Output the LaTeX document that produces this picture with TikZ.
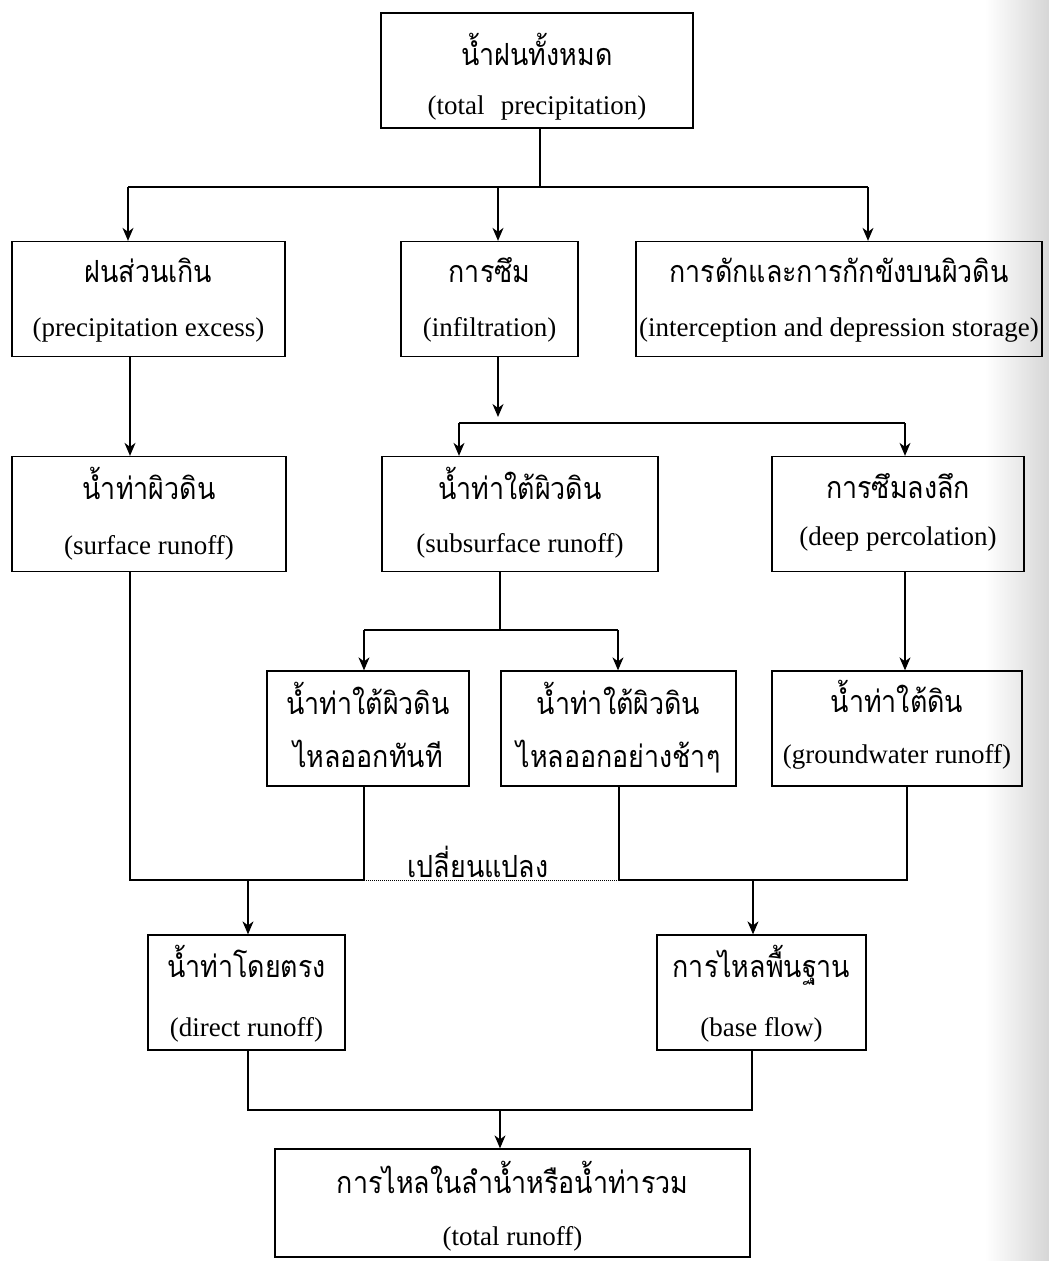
\documentclass[tikz,border=0pt]{standalone}
\usepackage{fontspec}
\setmainfont{Liberation Serif}
\newfontfamily\thai[Script=Thai,FakeStretch=0.88]{Loma}
\usetikzlibrary{arrows.meta}
\newcommand\boxtext[7]{%
  \node[txt,#3] (#1-a) at ([yshift=-#2pt]#1.north) {#4};
  \node[txt,#6] (#1-b) at ([yshift=-#5pt]#1.north) {#7};}
\begin{document}
\begin{tikzpicture}[x=1pt,y=-1pt,
  ln/.style={line width=1.3pt},
  arr/.style={line width=1.3pt,-{Stealth[length=13pt,width=11pt,inset=4pt]}},
  box/.style={draw,line width=1.3pt,inner sep=0pt,minimum height=115pt},
  txt/.style={anchor=base,inner sep=0pt},
  en/.style={font=\fontsize{27}{32}\selectfont},
  th/.style={font=\thai\fontsize{30.5}{34}\selectfont}]
\useasboundingbox (0,0) rectangle (1049,1261);
\shade[left color=white,right color=black!16] (985,0) rectangle (1049,1261);

% boxes
\node[box,minimum width=312pt] (top) at (537,70.5) {};
\node[box,minimum width=273pt] (A) at (148.5,299) {};
\node[box,minimum width=177pt] (B) at (489.5,299) {};
\node[box,minimum width=406pt] (I) at (839,299) {};
\node[box,minimum width=274pt] (E) at (149,514) {};
\node[box,minimum width=276pt] (F) at (520,514) {};
\node[box,minimum width=252pt] (G) at (898,514) {};
\node[box,minimum width=202pt] (C) at (368,728.5) {};
\node[box,minimum width=235pt] (D) at (618.5,728.5) {};
\node[box,minimum width=250pt] (H) at (897,728.5) {};
\node[box,minimum width=197pt] (DR) at (246.5,992.5) {};
\node[box,minimum width=209pt] (BF) at (761.5,992.5) {};
\node[box,minimum width=475pt,minimum height=108pt] (TR) at (512.5,1203) {};

% texts
\boxtext{top}{53}{th}{น้ำฝนทั้งหมด}{102}{en}{(total\hspace{0.6em}precipitation)}
\boxtext{A}{42}{th}{ฝนส่วนเกิน}{96}{en}{(precipitation excess)}
\boxtext{B}{42}{th}{การซึม}{96}{en}{(infiltration)}
\boxtext{I}{42}{th}{การดักและการกักขังบนผิวดิน}{96}{en}{(interception and depression storage)}
\boxtext{E}{44}{th}{น้ำท่าผิวดิน}{99}{en}{(surface runoff)}
\boxtext{F}{44}{th}{น้ำท่าใต้ผิวดิน}{97}{en}{(subsurface runoff)}
\boxtext{G}{43}{th}{การซึมลงลึก}{90}{en}{(deep percolation)}
\boxtext{C}{44}{th}{น้ำท่าใต้ผิวดิน}{97}{th}{ไหลออกทันที}
\boxtext{D}{44}{th}{น้ำท่าใต้ผิวดิน}{97}{th}{ไหลออกอย่างช้าๆ}
\boxtext{H}{42}{th}{น้ำท่าใต้ดิน}{93}{en}{(groundwater runoff)}
\boxtext{DR}{43}{th}{น้ำท่าโดยตรง}{102}{en}{(direct runoff)}
\boxtext{BF}{43}{th}{การไหลพื้นฐาน}{102}{en}{(base flow)}
\boxtext{TR}{45}{th}{การไหลในลำน้ำหรือน้ำท่ารวม}{97}{en}{(total runoff)}

% level 1 connectors
\coordinate (j0) at (540,187);
\coordinate (jA) at (128,187);
\coordinate (jB) at (498,187);
\coordinate (jI) at (868,187);
\draw[ln] (top.south -| j0) -- (j0);
\draw[ln] (jA) -- (jI);
\draw[arr] (jA) -- (jA |- A.north);
\draw[arr] (jB) -- (jB |- B.north);
\draw[arr] (jI) -- (jI |- I.north);

% A -> E
\coordinate (xAE) at (130,400);
\draw[arr] (A.south -| xAE) -- (E.north -| xAE);

% B -> F, G
\coordinate (bB) at (498,417);
\coordinate (jF) at (459,423);
\coordinate (jG) at (905,423);
\draw[arr] (B.south -| bB) -- (bB);
\draw[ln] (jF) -- (jG);
\draw[arr] (jF) -- (jF |- F.north);
\draw[arr] (jG) -- (jG |- G.north);

% F -> C, D
\coordinate (jF0) at (500,630);
\coordinate (jC) at (364,630);
\coordinate (jD) at (618,630);
\draw[ln] (F.south -| jF0) -- (jF0);
\draw[ln] (jC) -- (jD);
\draw[arr] (jC) -- (jC |- C.north);
\draw[arr] (jD) -- (jD |- D.north);

% G -> H
\coordinate (xGH) at (905,600);
\draw[arr] (G.south -| xGH) -- (H.north -| xGH);

% collectors at y=880
\coordinate (cE) at (130,880);
\coordinate (cC) at (364,880);
\coordinate (cD) at (619,880);
\coordinate (cH) at (907,880);
\draw[ln] (E.south -| cE) -- (cE) -- (cC);
\draw[ln] (C.south -| cC) -- (cC);
\draw[ln] (D.south -| cD) -- (cD);
\draw[ln] (H.south -| cH) -- (cH) -- (cD);
\draw[line width=1pt,densely dotted] (cC) -- (cD);
\node[txt,th] (chg) at (478,877) {เปลี่ยนแปลง};

\coordinate (cDR) at (248,880);
\coordinate (cBF) at (753,880);
\draw[arr] (cDR) -- (cDR |- DR.north);
\draw[arr] (cBF) -- (cBF |- BF.north);

% to total
\coordinate (tL) at (248,1110);
\coordinate (tR) at (752,1110);
\coordinate (tM) at (500,1110);
\draw[ln] (DR.south -| tL) -- (tL) -- (tR) -- (tR |- BF.south);
\draw[arr] (tM) -- (tM |- TR.north);
\end{tikzpicture}
\end{document}
